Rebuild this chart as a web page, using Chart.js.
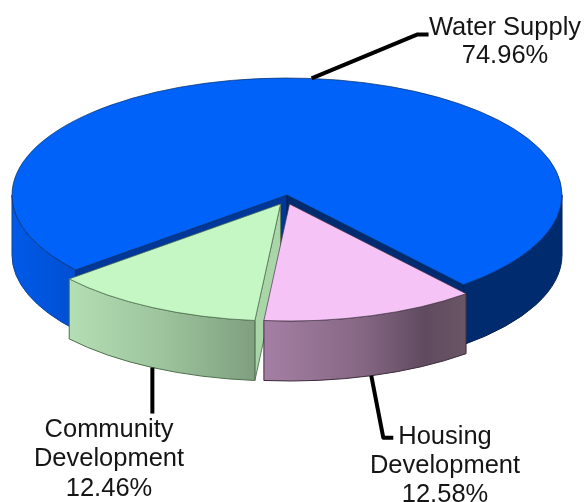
<!DOCTYPE html>
<html>
<head>
<meta charset="utf-8">
<style>
  html, body { margin: 0; padding: 0; background: #fff; }
  canvas { display: block; }
</style>
<script src="https://cdn.jsdelivr.net/npm/chart.js@4"></script>
</head>
<body>
<canvas id="pie" width="585" height="502"></canvas>
<script>
// data
const categories = [['Water Supply'], ['Housing', 'Development'], ['Community', 'Development']];
const shares = [74.96, 12.58, 12.46];

const faceColors = ['#0062f8', '#f6c3f6', '#c5f7c5'];
const edgeColors = ['#0b2f66', '#4d3a4d', '#4f6f4f'];

const tilt = 117 / 275;   // ellipse height / width
const depth = 60;         // wall height
const rotationDeg = 230.2;
const explode = [[0, 0], [2.5, 9], [-6.5, 9]];  // pulled out slices, screen px

function hgrad(ctx, x0, x1, stops) {
  const g = ctx.createLinearGradient(x0, 0, x1, 0);
  stops.forEach(s => g.addColorStop(s[0], s[1]));
  return g;
}

// outer wall between two angles
function wall(ctx, a, from, to, fill, stroke) {
  const ry = a.outerRadius * tilt;
  ctx.beginPath();
  ctx.ellipse(a.sx, a.sy, a.outerRadius, ry, 0, from, to);
  ctx.ellipse(a.sx, a.sy + depth, a.outerRadius, ry, 0, to, from, true);
  ctx.closePath();
  ctx.fillStyle = fill;
  ctx.fill();
  ctx.lineWidth = 1;
  ctx.strokeStyle = stroke;
  ctx.stroke();
}

// flat cut face from the apex to the rim
function cutFace(ctx, a, angle, fill, stroke) {
  const px = a.sx + a.outerRadius * Math.cos(angle);
  const py = a.sy + a.outerRadius * tilt * Math.sin(angle);
  ctx.beginPath();
  ctx.moveTo(a.sx, a.sy);
  ctx.lineTo(px, py);
  ctx.lineTo(px, py + depth);
  ctx.lineTo(a.sx, a.sy + depth);
  ctx.closePath();
  ctx.fillStyle = fill;
  ctx.fill();
  ctx.lineWidth = 1;
  ctx.strokeStyle = stroke;
  ctx.stroke();
}

function rimX(a, angle) { return a.sx + a.outerRadius * Math.cos(angle); }

const pie3d = {
  id: 'pie3d',
  afterDatasetsUpdate(chart) {
    const arcs = chart.getDatasetMeta(0).data;
    const baseY = arcs[0].y;
    chart.$baseY = baseY;
    arcs.forEach((a, i) => {
      a.x += explode[i][0];
      a.y = baseY + explode[i][1] / tilt;
      a.sx = a.x;
      a.sy = baseY + explode[i][1];
    });
  },
  beforeDatasetsDraw(chart) {
    const ctx = chart.ctx;
    const [water, housing, community] = chart.getDatasetMeta(0).data;

    // water supply: left and right walls, then its two cut faces
    wall(ctx, water, water.startAngle, Math.PI,
      hgrad(ctx, rimX(water, Math.PI), rimX(water, water.startAngle), [[0, '#005ae8'], [1, '#004fd2']]), '#0a3f9a');
    wall(ctx, water, Math.PI * 2, water.endAngle, '#002b6e', '#001f50');
    cutFace(ctx, water, water.startAngle, '#00389a', '#002a70');
    cutFace(ctx, water, water.endAngle, '#002b70', '#002050');

    // community development
    cutFace(ctx, community, community.startAngle, '#a9d5a9', '#5d7d5d');
    wall(ctx, community, community.startAngle, community.endAngle,
      hgrad(ctx, rimX(community, community.endAngle), rimX(community, community.startAngle),
        [[0, '#b4deb4'], [0.5, '#9dc49d'], [1, '#7f9f7f']]), '#4f6f4f');

    // housing development
    wall(ctx, housing, housing.startAngle, housing.endAngle,
      hgrad(ctx, rimX(housing, housing.endAngle), rimX(housing, housing.startAngle),
        [[0, '#a57fa5'], [0.5, '#846682'], [0.8, '#5f4a5f'], [1, '#6b5666']]), '#3d2d3d');

    // squash the flat arcs into ellipses for the top faces
    ctx.save();
    ctx.translate(0, chart.$baseY);
    ctx.scale(1, tilt);
    ctx.translate(0, -chart.$baseY);
  },
  afterDatasetsDraw(chart) {
    chart.ctx.restore();
  },
  afterDraw(chart) {
    const ctx = chart.ctx;
    const [water, housing, community] = chart.getDatasetMeta(0).data;

    function anchor(a, drop) {
      const mid = (a.startAngle + a.endAngle) / 2;
      return {
        x: a.sx + a.outerRadius * Math.cos(mid),
        y: a.sy + a.outerRadius * tilt * Math.sin(mid) + drop
      };
    }
    function leader(start, steps) {
      ctx.beginPath();
      ctx.moveTo(start.x, start.y);
      let x = start.x, y = start.y;
      steps.forEach(s => { x += s[0]; y += s[1]; ctx.lineTo(x, y); });
      ctx.lineWidth = 4;
      ctx.strokeStyle = '#000';
      ctx.lineJoin = 'round';
      ctx.stroke();
    }
    leader(anchor(water, 0), [[106, -44], [11, 0]]);
    leader(anchor(housing, depth), [[12, 62], [10, 0]]);
    leader(anchor(community, depth), [[0, 46]]);

    ctx.fillStyle = '#151515';
    ctx.font = '25.5px "Liberation Sans", Arial, sans-serif';
    ctx.textAlign = 'center';
    ctx.textBaseline = 'middle';
    const spots = [[505, 27.5, 28], [445, 436.5, 29], [109, 429.5, 29.5]];
    categories.forEach((lines, i) => {
      const rows = lines.concat(shares[i].toFixed(2) + '%');
      rows.forEach((t, r) => ctx.fillText(t, spots[i][0], spots[i][1] + r * spots[i][2]));
    });
  }
};

new Chart(document.getElementById('pie'), {
  type: 'pie',
  data: {
    labels: categories,
    datasets: [{
      data: shares,
      backgroundColor: faceColors,
      borderColor: edgeColors,
      borderWidth: 1,
      clip: false
    }]
  },
  options: {
    responsive: false,
    animation: false,
    rotation: rotationDeg,
    radius: 275,
    layout: { padding: { right: 11, bottom: 112 } },
    plugins: { legend: { display: false }, tooltip: { enabled: false } }
  },
  plugins: [pie3d]
});
</script>
</body>
</html>
